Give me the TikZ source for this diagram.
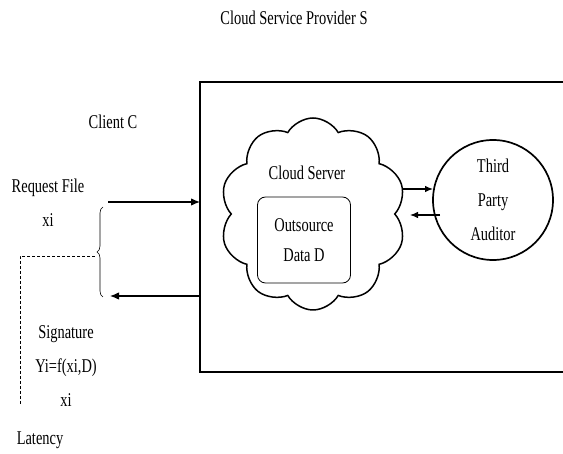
\documentclass[tikz,border=0pt]{standalone}
\usepackage{fontspec}
\setmainfont{Liberation Serif}[FakeStretch=0.74]
\usetikzlibrary{shapes.symbols,arrows.meta,decorations.pathreplacing}
\begin{document}
\begin{tikzpicture}[x=1pt,y=-1pt,
  lbl/.style={font=\fontsize{19.5}{34}\selectfont, inner sep=0pt, align=center},
  flow/.style={line width=1.2pt, -{Latex[length=9pt,width=7.5pt]}},
  link/.style={line width=1.1pt, -{Latex[length=8pt,width=6.5pt]}}]
\useasboundingbox (0,0) rectangle (563,454);
% provider area
\node[lbl] (title) at (294,18) {Cloud Service Provider S};
\draw[line width=1.1pt] (563,82) -- (200,82) -- (200,372) -- (563,372);
\coordinate (pin) at (200,202);
\coordinate (pout) at (200,296);
% cloud server with outsourced data
\node[cloud, cloud puffs=10, cloud puff arc=120, aspect=1, draw, line width=1.5pt,
      minimum width=186pt, minimum height=192pt] (cloud) at (313,214) {};
\node[lbl] (cs) at (307,173) {Cloud Server};
\node[draw, rounded corners=8pt, line width=0.8pt, minimum width=93pt, minimum height=86pt,
      lbl, font=\fontsize{19.5}{30}\selectfont] (data) at (304,240) {Outsource\\Data D};
% auditor
\node[circle, draw, line width=1.7pt, minimum size=120pt, lbl] (tpa) at (493,200)
  {Third\\Party\\Auditor};
\coordinate (c1) at (403,189);
\coordinate (c2) at (433,189);
\coordinate (c3) at (440,215);
\coordinate (c4) at (410,215);
\draw[link] (c1) -- (c2);
\draw[link] (c3) -- (c4);
% client side
\node[lbl] (client) at (113,122) {Client C};
\node[lbl] (req) at (48,203) {Request File\\xi};
\coordinate (rq) at (108,202);
\coordinate (rs) at (110,296);
\draw[flow] (rq) -- (pin);
\draw[flow] (pout) -- (rs);
\coordinate (bt) at (103,207);
\coordinate (bb) at (103,297);
\draw[line width=0.6pt, decorate, decoration={brace, amplitude=6pt}] (bb) -- (bt);
\coordinate (btipx) at (95,256);
\coordinate (lc) at (20,256);
\coordinate (ld) at (20,405);
\draw[line width=0.7pt, dashed, dash pattern=on 3pt off 2pt] (btipx) -- (lc) -- (ld);
\node[lbl] (sig) at (66,366) {Signature\\Yi=f(xi,D)\\xi};
\node[lbl] (lat) at (40,440) {Latency};
\end{tikzpicture}
\end{document}
